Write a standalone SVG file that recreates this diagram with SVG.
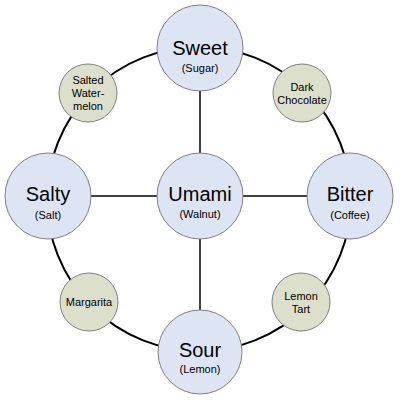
<svg xmlns="http://www.w3.org/2000/svg" width="400" height="400" viewBox="0 0 400 400">
<style>
.big{fill:#dde5f4;stroke:#7f7f7f;stroke-width:1}
.small{fill:#dcdfcb;stroke:#7f7f7f;stroke-width:1}
.ln{stroke:#000;stroke-width:1.5;fill:none}
text{font-family:"Liberation Sans",Arial,sans-serif;text-anchor:middle;fill:#000}
.t{font-size:20px}
.s{font-size:11px}
</style>
<rect width="400" height="400" fill="#fff"/>
<g id="connectors">
<circle class="ln" cx="199" cy="199" r="152" style="stroke-width:2"/>
<line class="ln" x1="200" y1="90" x2="200" y2="154"/>
<line class="ln" x1="200" y1="238" x2="200" y2="311"/>
<line class="ln" x1="90" y1="196" x2="158" y2="196"/>
<line class="ln" x1="242" y1="196" x2="308" y2="196"/>
</g>
<g id="sweet"><circle class="big" cx="200" cy="48" r="43"/><text class="t" x="200" y="55">Sweet</text><text class="s" x="200" y="72">(Sugar)</text></g>
<g id="umami"><circle class="big" cx="200" cy="196" r="43"/><text class="t" x="200" y="201">Umami</text><text class="s" x="200" y="218">(Walnut)</text></g>
<g id="salty"><circle class="big" cx="48" cy="196" r="43"/><text class="t" x="48" y="201">Salty</text><text class="s" x="48" y="219">(Salt)</text></g>
<g id="bitter"><circle class="big" cx="350" cy="196" r="43"/><text class="t" x="350" y="201">Bitter</text><text class="s" x="350" y="219">(Coffee)</text></g>
<g id="sour"><circle class="big" cx="200" cy="352" r="42"/><text class="t" x="200" y="357">Sour</text><text class="s" x="200" y="373">(Lemon)</text></g>
<g id="salted-watermelon"><circle class="small" cx="88" cy="93" r="29"/><text class="s" x="88" y="84">Salted</text><text class="s" x="88" y="97">Water-</text><text class="s" x="88" y="110">melon</text></g>
<g id="dark-chocolate"><circle class="small" cx="302" cy="93" r="29"/><text class="s" x="302" y="91">Dark</text><text class="s" x="302" y="104">Chocolate</text></g>
<g id="margarita"><circle class="small" cx="89" cy="302" r="29"/><text class="s" x="89" y="306">Margarita</text></g>
<g id="lemon-tart"><circle class="small" cx="301" cy="302" r="29"/><text class="s" x="301" y="300">Lemon</text><text class="s" x="301" y="313">Tart</text></g>
</svg>
